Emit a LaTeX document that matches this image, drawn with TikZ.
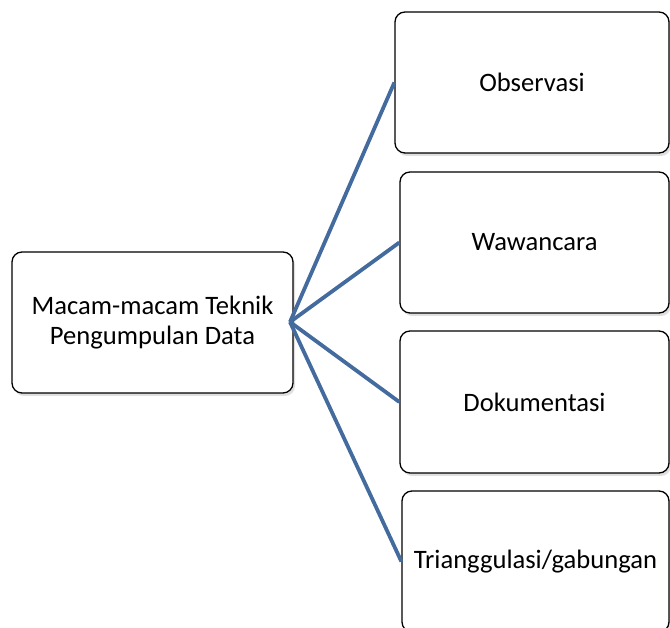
\documentclass[tikz,border=0pt]{standalone}
\usepackage{fontspec}
\setmainfont{Carlito}
\usetikzlibrary{shadows}
\definecolor{linkblue}{RGB}{68,107,158}
\begin{document}
\begin{tikzpicture}[x=1pt,y=1pt,
  box/.style={draw=black, line width=1.3pt, rounded corners=10pt, fill=white,
    drop shadow={opacity=0.25, shadow xshift=2pt, shadow yshift=-3pt},
    align=center, inner sep=0pt, font=\fontsize{26.6}{30}\selectfont},
  link/.style={draw=linkblue, line width=3.8pt}]
\useasboundingbox (0,0) rectangle (670,628);
\clip (0,0) rectangle (670,628);
\node[box, minimum width=281pt, minimum height=141pt] (root) at (152.5,305.5) {Macam-macam Teknik\\Pengumpulan Data};
\node[box, minimum width=274pt, minimum height=141pt] (obs) at (532,545.5) {Observasi};
\node[box, minimum width=269pt, minimum height=141pt] (waw) at (534.5,385.5) {Wawancara};
\node[box, minimum width=269pt, minimum height=142pt] (dok) at (534.5,226) {Dokumentasi};
\node[box, minimum width=267pt, minimum height=141pt] (tri) at (535.5,66.5) {Trianggulasi/gabungan};
\coordinate (hub) at (290,306);
\draw[link] (hub) -- (obs.west);
\draw[link] (hub) -- (waw.west);
\draw[link] (hub) -- (dok.west);
\draw[link] (hub) -- (tri.west);
\end{tikzpicture}
\end{document}
